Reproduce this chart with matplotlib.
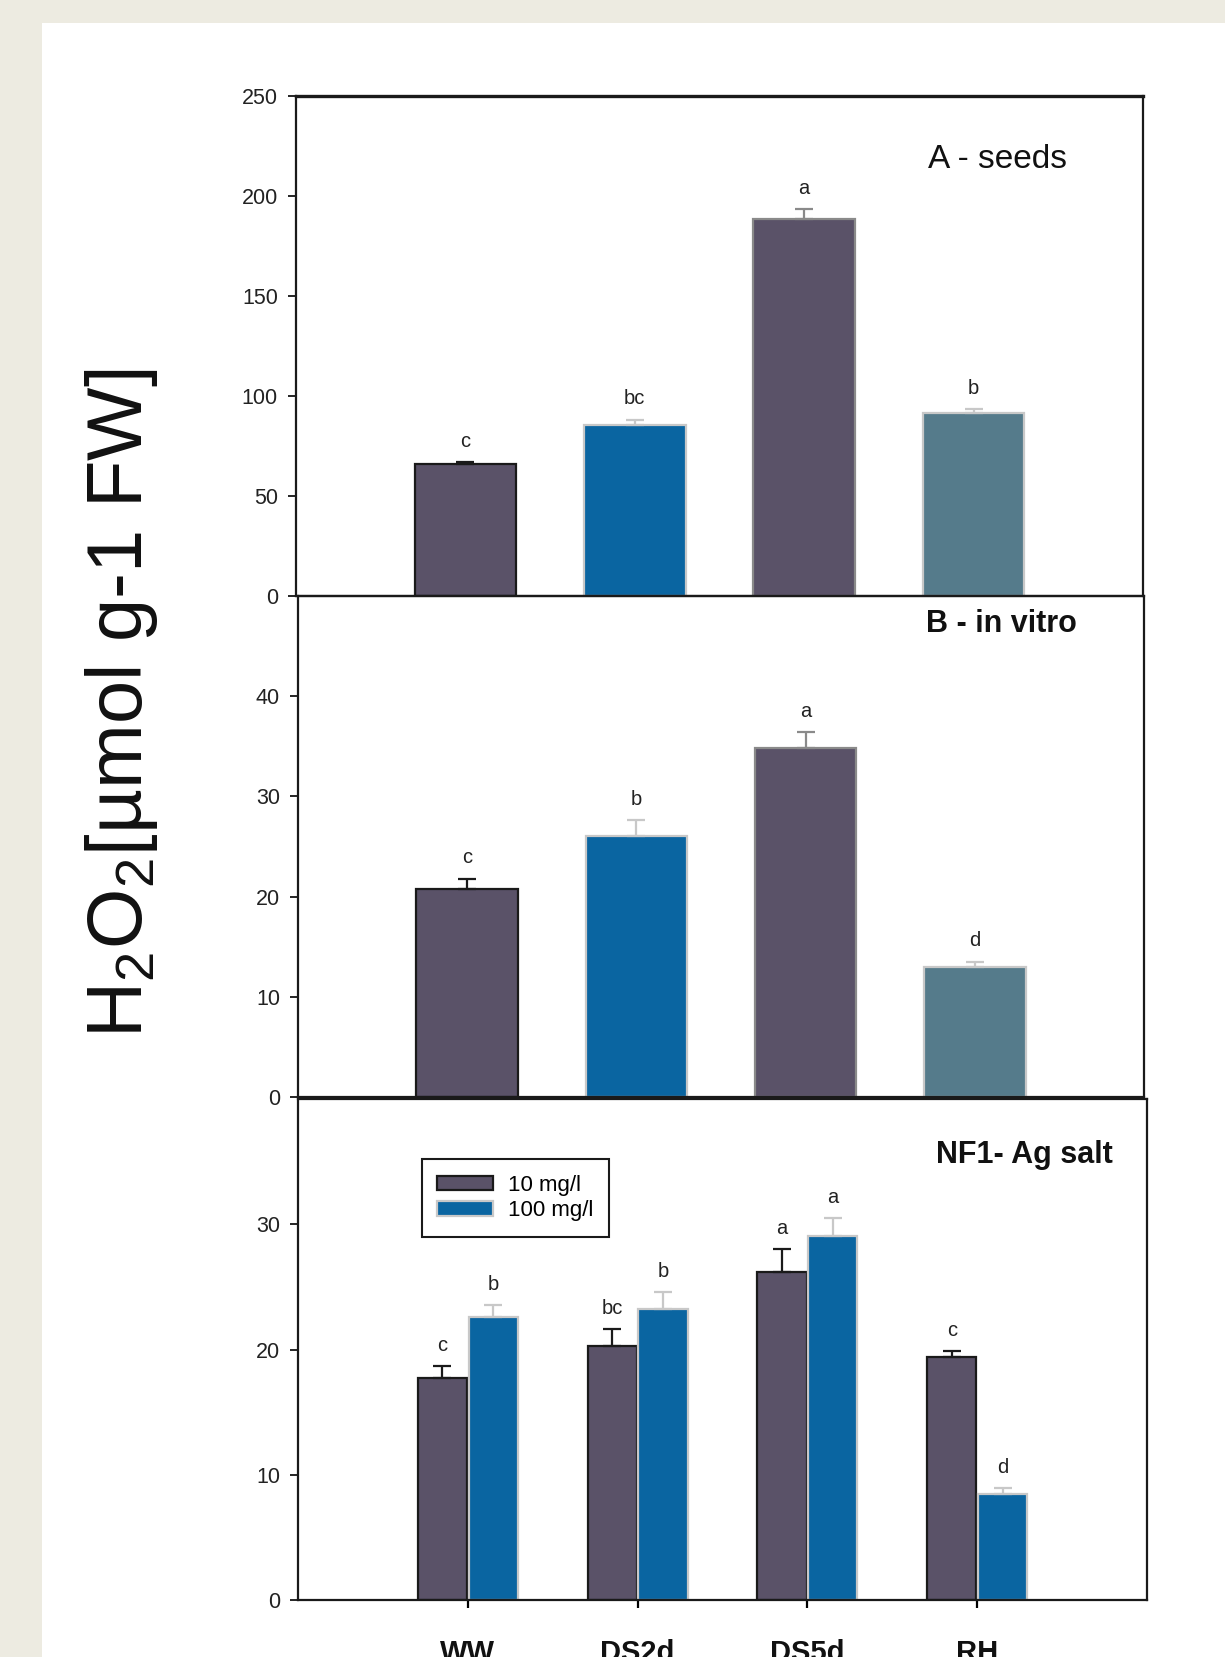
import numpy as np
import matplotlib.pyplot as plt
from matplotlib.patches import Rectangle, Patch

plt.rcParams['font.family'] = ['Liberation Sans', 'DejaVu Sans']
plt.rcParams['mathtext.fontset'] = 'custom'
plt.rcParams['mathtext.rm'] = 'Liberation Sans'

treatments = ['WW', 'DS2d', 'DS5d', 'RH']

# A - seeds
seeds = [65.8, 85.5, 188.3, 91.3]
seeds_err = [1.3, 2.7, 5.0, 2.0]
seeds_sig = ['c', 'bc', 'a', 'b']

# B - in vitro
vitro = [20.8, 26.0, 34.8, 13.0]
vitro_err = [1.0, 1.6, 1.6, 0.5]
vitro_sig = ['c', 'b', 'a', 'd']

# NF1 - Ag salt, two doses
doses = ['10 mg/l', '100 mg/l']
ag10 = [17.7, 20.3, 26.2, 19.4]
ag10_err = [0.95, 1.3, 1.8, 0.45]
ag10_sig = ['c', 'bc', 'a', 'c']
ag100 = [22.6, 23.2, 29.1, 8.5]
ag100_err = [0.95, 1.4, 1.4, 0.45]
ag100_sig = ['b', 'b', 'a', 'd']

purple = '#5a5268'
blue = '#0a65a1'
teal = '#557b8b'
dark = '#1a1a1a'
lgray = '#c8c8c8'
mgray = '#8a8a8a'

single_fill = [purple, blue, purple, teal]
single_edge = [dark, lgray, mgray, lgray]

W, H = 1225, 1657
fig = plt.figure(figsize=(W / 100, H / 100), dpi=100, facecolor='#edebe1')
fig.add_artist(Rectangle((42 / W, 0), 1, 1 - 23 / H, transform=fig.transFigure,
                         facecolor='white', edgecolor='none', zorder=-5))


def box(l, r, t, b):
    return [l / W, 1 - b / H, (r - l) / W, (b - t) / H]


def draw_bars(ax, x, vals, errs, sig, width, fills, edges):
    for xi, v, e, s, f, ec in zip(x, vals, errs, sig, fills, edges):
        ax.bar(xi, v, width, color=f, edgecolor=ec, linewidth=1.6, zorder=2)
        ax.errorbar(xi, v, yerr=[[0], [e]], fmt='none', ecolor=ec, elinewidth=1.6,
                    capsize=6.5, capthick=1.6, zorder=3)
        ax.annotate(s, (xi, v + e), xytext=(0, 11), textcoords='offset points',
                    ha='center', va='baseline', fontsize=14.5, color='#222222')


def style(ax, ymax, yticks):
    ax.set_xlim(-1, 4)
    ax.set_ylim(0, ymax)
    ax.set_yticks(yticks)
    for sp in ax.spines.values():
        sp.set_color(dark)
        sp.set_linewidth(1.6)
    ax.tick_params(axis='y', direction='out', length=6, width=1.2, pad=7,
                   labelsize=15.5, labelcolor='#222222')
    ax.set_facecolor('none')


x = np.arange(len(treatments))

axA = fig.add_axes(box(296, 1143, 96, 596))
draw_bars(axA, x, seeds, seeds_err, seeds_sig, 0.6, single_fill, single_edge)
style(axA, 250, range(0, 251, 50))
axA.spines['top'].set_linewidth(2.4)
axA.set_xticks([])
axA.text(0.828, 0.874, 'A - seeds', transform=axA.transAxes, ha='center', va='center',
         fontsize=24, color='#111111')

axB = fig.add_axes(box(298, 1144, 596, 1097))
draw_bars(axB, x, vitro, vitro_err, vitro_sig, 0.6, single_fill, single_edge)
style(axB, 50, range(0, 41, 10))
axB.set_xticks([])
axB.text(0.832, 0.944, 'B - in vitro', transform=axB.transAxes, ha='center', va='center',
         fontsize=22, fontweight='bold', color='#111111')

axC = fig.add_axes(box(298, 1147, 1099, 1600))
draw_bars(axC, x - 0.15, ag10, ag10_err, ag10_sig, 0.29, [purple] * 4, [dark] * 4)
draw_bars(axC, x + 0.15, ag100, ag100_err, ag100_sig, 0.29, [blue] * 4, [lgray] * 4)
style(axC, 40, range(0, 31, 10))
axC.set_xticks(x)
axC.set_xticklabels(treatments, fontsize=21, fontweight='bold', color='#111111')
axC.tick_params(axis='x', direction='out', length=6, width=1.6, pad=22)
axC.text(0.856, 0.888, 'NF1- Ag salt', transform=axC.transAxes, ha='center', va='center',
         fontsize=22, fontweight='bold', color='#111111')

handles = [Patch(facecolor=purple, edgecolor=dark, linewidth=1.6),
           Patch(facecolor=blue, edgecolor=lgray, linewidth=1.6)]
leg = axC.legend(handles, doses, loc='upper left', bbox_to_anchor=(0.1457, 0.8796),
                 borderaxespad=0, fontsize=16, frameon=True, fancybox=False,
                 framealpha=1, edgecolor=dark, handlelength=2.5, handleheight=0.65,
                 labelspacing=0.2, handletextpad=0.7, borderpad=0.7)
leg.get_frame().set_linewidth(1.5)

fig.text(122 / W, 1 - 703 / H, 'H$_2$O$_2$[µmol g-1 FW]', rotation=90,
         ha='center', va='center', fontsize=56, color='#111111')

fig.savefig('out.png', dpi=100, facecolor=fig.get_facecolor())
